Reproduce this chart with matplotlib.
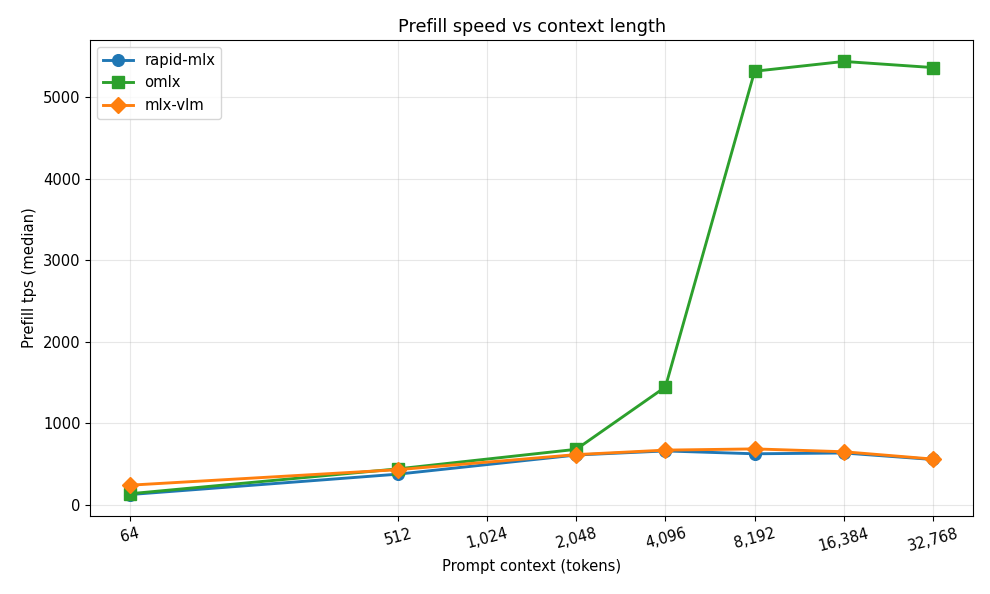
import matplotlib
matplotlib.use("Agg")
import matplotlib.pyplot as plt

contexts = [64, 512, 2048, 4096, 8192, 16384, 32768]
tick_values = [64, 512, 1024, 2048, 4096, 8192, 16384, 32768]
rapid_mlx = [125, 375, 610, 660, 625, 635, 555]
omlx = [135, 440, 680, 1445, 5320, 5440, 5365]
mlx_vlm = [240, 430, 615, 670, 685, 650, 560]

plt.rcParams["font.size"] = 10.7

fig, ax = plt.subplots(figsize=(10, 6), dpi=99)
ax.plot(contexts, rapid_mlx, marker="o", lw=2.1, ms=8.5, color="#1f77b4", label="rapid-mlx")
ax.plot(contexts, omlx, marker="s", lw=2.1, ms=8.5, color="#2ca02c", label="omlx")
ax.plot(contexts, mlx_vlm, marker="D", lw=2.1, ms=8.5, color="#ff7f0e", label="mlx-vlm")

ax.set_xscale("log", base=2)
ax.set_xticks(tick_values)
ax.set_xticklabels([f"{v:,}" for v in tick_values], rotation=15)
ax.minorticks_off()
ax.set_xlabel("Prompt context (tokens)")
ax.set_ylabel("Prefill tps (median)")
ax.set_title("Prefill speed vs context length")
ax.grid(True, alpha=0.3)
ax.legend(loc="upper left")
fig.subplots_adjust(left=0.091, right=0.983, top=0.933, bottom=0.131)
fig.savefig("out.png")
